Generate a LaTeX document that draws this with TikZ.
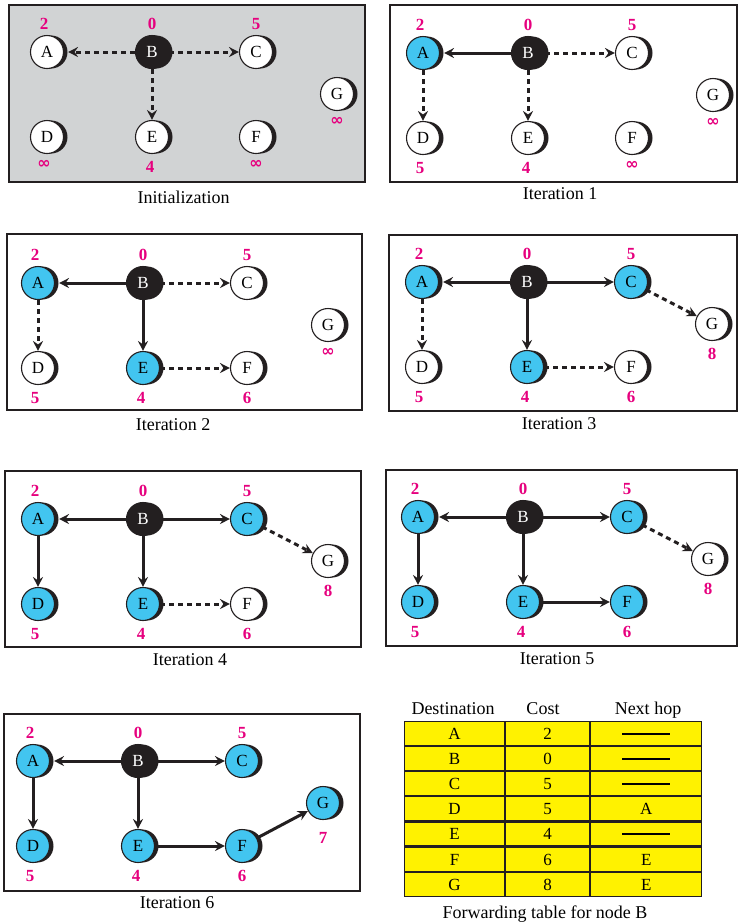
\documentclass[tikz,border=0pt]{standalone}
\usepackage{fontspec}
\setmainfont{Liberation Serif}
\newfontfamily\infinityfont{DejaVu Sans}
\usetikzlibrary{arrows.meta,shadows,matrix}

\definecolor{ink}{RGB}{35,31,32}
\definecolor{panelgray}{RGB}{209,211,212}
\definecolor{settled}{RGB}{66,197,240}
\definecolor{costpink}{RGB}{230,0,126}
\definecolor{tableyellow}{RGB}{255,242,0}

% unknown distance, lifted a little so it sits like the digits
\newcommand\infcost{\raisebox{4pt}{\infinityfont\bfseries\fontsize{16}{16}\selectfont ∞}}
% "no next hop" dash in the forwarding table
\newcommand\nohop{\rule[5pt]{48pt}{1.6pt}}

% the seven routers of one snapshot; #1 prefix, #2..#7 styles of A,C,D,E,F,G
\newcommand\routers[7]{%
  \node[#2] (#1A) at (0,0) {A};
  \node[vsrc] (#1B) at (105,0) {B};
  \node[#3] (#1C) at (209,0) {C};
  \node[#4] (#1D) at (0,85) {D};
  \node[#5] (#1E) at (105,85) {E};
  \node[#6] (#1F) at (209,85) {F};
  \node[#7] (#1G) at (290,42) {G};
}
% cost labels; #1 prefix, #2 cost of D, #3 cost of F, #4 cost of G, #5 baseline of G's cost
\newcommand\costs[5]{%
  \node[costlbl] (#1cA) at (-3,-23) {2};
  \node[costlbl] (#1cB) at (105,-23) {0};
  \node[costlbl] (#1cC) at (209,-23) {5};
  \node[costlbl] (#1cD) at (-3,120.5) {#2};
  \node[costlbl] (#1cE) at (103,120.5) {4};
  \node[costlbl] (#1cF) at (209,120.5) {#3};
  \node[costlbl] (#1cG) at (290,#5) {#4};
}

\begin{document}
\begin{tikzpicture}[x=1pt,y=-1pt,
  router/.style={circle, draw=ink, line width=1.1pt, minimum size=33pt, inner sep=0pt,
    font=\fontsize{17}{17}\selectfont,
    general shadow={fill=ink, shadow xshift=4pt}},
  vopen/.style={router, fill=white},
  vdone/.style={router, fill=settled},
  vsrc/.style={router, fill=ink, text=white},
  costlbl/.style={anchor=base, text=costpink, inner sep=0pt,
    font=\fontsize{17}{17}\selectfont\bfseries},
  hop/.style={draw=ink, line width=3pt, -{Stealth[length=10pt,width=10pt,inset=3.5pt]}},
  tentative/.style={hop, dash pattern=on 5pt off 4pt},
  toA/.style={shorten >=4pt},
  panelframe/.style={draw=ink, line width=1.4pt},
  captiontext/.style={anchor=base, inner sep=0pt, font=\fontsize{18}{18}\selectfont},
]
\useasboundingbox (0,0) rectangle (739,922);

% ---------- Initialization ----------
\draw[panelframe, fill=panelgray] (9,5) rectangle (365,182);
\begin{scope}[shift={(47,52)}]
  \routers{p0}{vopen}{vopen}{vopen}{vopen}{vopen}{vopen}
  \costs{p0}{\infcost}{\infcost}{\infcost}{77}
  \draw[tentative, toA] (p0B) -- (p0A);
  \draw[tentative] (p0B) -- (p0C);
  \draw[tentative] (p0B) -- (p0E);
\end{scope}
\node[captiontext] (cap0) at (183.5,203) {Initialization};

% ---------- Iteration 1 ----------
\draw[panelframe] (390,5) rectangle (737,182);
\begin{scope}[shift={(423,53)}]
  \routers{p1}{vdone}{vopen}{vopen}{vopen}{vopen}{vopen}
  \costs{p1}{5}{\infcost}{\infcost}{77}
  \draw[hop, toA] (p1B) -- (p1A);
  \draw[tentative] (p1B) -- (p1C);
  \draw[tentative] (p1B) -- (p1E);
  \draw[tentative] (p1A) -- (p1D);
\end{scope}
\node[captiontext] (cap1) at (560,199) {Iteration 1};

% ---------- Iteration 2 ----------
\draw[panelframe] (7,234) rectangle (362,410);
\begin{scope}[shift={(38,283)}]
  \routers{p2}{vdone}{vopen}{vopen}{vdone}{vopen}{vopen}
  \costs{p2}{5}{6}{\infcost}{77}
  \draw[hop, toA] (p2B) -- (p2A);
  \draw[tentative] (p2B) -- (p2C);
  \draw[hop] (p2B) -- (p2E);
  \draw[tentative] (p2A) -- (p2D);
  \draw[tentative] (p2E) -- (p2F);
\end{scope}
\node[captiontext] (cap2) at (173,430) {Iteration 2};

% ---------- Iteration 3 ----------
\draw[panelframe] (389,235) rectangle (737,411);
\begin{scope}[shift={(422,282)}]
  \routers{p3}{vdone}{vdone}{vopen}{vdone}{vopen}{vopen}
  \costs{p3}{5}{6}{8}{77}
  \draw[hop, toA] (p3B) -- (p3A);
  \draw[hop] (p3B) -- (p3C);
  \draw[hop] (p3B) -- (p3E);
  \draw[tentative] (p3A) -- (p3D);
  \draw[tentative] (p3E) -- (p3F);
  \draw[tentative] (p3C) -- (p3G);
\end{scope}
\node[captiontext] (cap3) at (559,429) {Iteration 3};

% ---------- Iteration 4 ----------
\draw[panelframe] (5,471) rectangle (361,647);
\begin{scope}[shift={(38,519)}]
  \routers{p4}{vdone}{vdone}{vdone}{vdone}{vopen}{vopen}
  \costs{p4}{5}{6}{8}{77}
  \draw[hop, toA] (p4B) -- (p4A);
  \draw[hop] (p4B) -- (p4C);
  \draw[hop] (p4B) -- (p4E);
  \draw[hop] (p4A) -- (p4D);
  \draw[tentative] (p4E) -- (p4F);
  \draw[tentative] (p4C) -- (p4G);
\end{scope}
\node[captiontext] (cap4) at (190,665) {Iteration 4};

% ---------- Iteration 5 ----------
\draw[panelframe] (386,470) rectangle (737,646);
\begin{scope}[shift={(418,517)}]
  \routers{p5}{vdone}{vdone}{vdone}{vdone}{vdone}{vopen}
  \costs{p5}{5}{6}{8}{77}
  \draw[hop, toA] (p5B) -- (p5A);
  \draw[hop] (p5B) -- (p5C);
  \draw[hop] (p5B) -- (p5E);
  \draw[hop] (p5A) -- (p5D);
  \draw[hop] (p5E) -- (p5F);
  \draw[tentative] (p5C) -- (p5G);
\end{scope}
\node[captiontext] (cap5) at (557,664) {Iteration 5};

% ---------- Iteration 6 ----------
\draw[panelframe] (4,714) rectangle (360,891);
\begin{scope}[shift={(33,761)}]
  \routers{p6}{vdone}{vdone}{vdone}{vdone}{vdone}{vdone}
  \costs{p6}{5}{6}{7}{82}
  \draw[hop, toA] (p6B) -- (p6A);
  \draw[hop] (p6B) -- (p6C);
  \draw[hop] (p6B) -- (p6E);
  \draw[hop] (p6A) -- (p6D);
  \draw[hop] (p6E) -- (p6F);
  \draw[hop] (p6F) -- (p6G);
\end{scope}
\node[captiontext] (cap6) at (177,908) {Iteration 6};

% ---------- Forwarding table ----------
\node[captiontext] (hdest) at (453,714) {Destination};
\node[captiontext] (hcost) at (543,714) {Cost};
\node[captiontext] (hnext) at (648,714) {Next hop};
\matrix (fwd) [matrix of nodes, anchor=north west, inner sep=0pt, outer sep=0pt,
  column sep=0pt, row sep=0pt,
  nodes={draw=ink, fill=tableyellow, line width=1.1pt, minimum height=24pt,
    text height=12pt, text depth=0pt, inner sep=0pt,
    font=\fontsize{17}{17}\selectfont},
  column 1/.style={nodes={minimum width=100pt}},
  column 2/.style={nodes={minimum width=84pt}},
  column 3/.style={nodes={minimum width=111pt}}] at (404,721) {
  A & 2 & \nohop \\
  B & 0 & \nohop \\
  C & 5 & \nohop \\
  D & 5 & A \\
  E & 4 & \nohop \\
  F & 6 & E \\
  G & 8 & E \\
};
\node[captiontext] (tabcap) at (545,918) {Forwarding table for node B};
\end{tikzpicture}
\end{document}
